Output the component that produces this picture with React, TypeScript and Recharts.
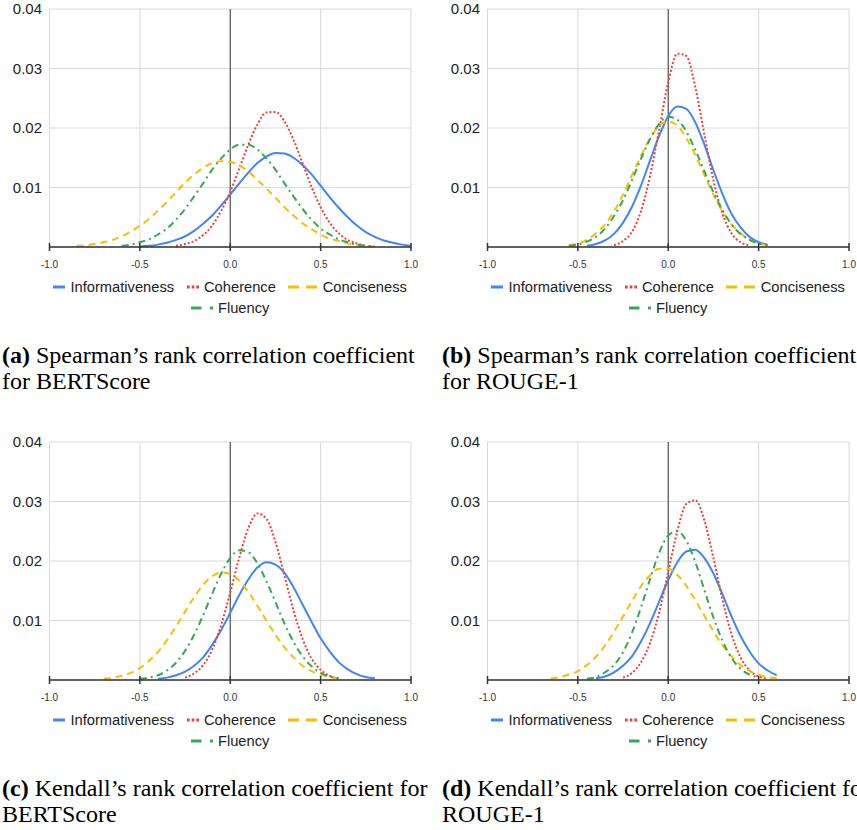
import React from 'react';
import { LineChart, Line, XAxis, YAxis, CartesianGrid, ReferenceLine } from 'recharts';

// correlation coefficient positions shared by every curve (step 0.05)
const xGrid = [
  -0.85, -0.8, -0.75, -0.7, -0.65, -0.6, -0.55, -0.5, -0.45, -0.4,
  -0.35, -0.3, -0.25, -0.2, -0.15, -0.1, -0.05, 0, 0.05, 0.1,
  0.15, 0.2, 0.25, 0.3, 0.35, 0.4, 0.45, 0.5, 0.55, 0.6,
  0.65, 0.7, 0.75, 0.8, 0.85, 0.9, 0.95, 1.0,
];
const STEP = 0.05;
const xTicks = [-1, -0.5, 0, 0.5, 1];
const yTicks = [0.01, 0.02, 0.03, 0.04];

const seriesKeys = ['inf', 'coh', 'con', 'flu'];
const seriesNames = ['Informativeness', 'Coherence', 'Conciseness', 'Fluency'];

// (a) Spearman / BERTScore  -- first x of each curve: inf, coh, con, flu
const aStarts = [-0.5, -0.3, -0.85, -0.6];
const aInf = [0.0001, 0.0002, 0.0004, 0.0007, 0.0012, 0.0018, 0.0027, 0.0039, 0.0053, 0.0070, 0.0088, 0.0107, 0.0125, 0.0141, 0.0152, 0.0158, 0.0157, 0.0150, 0.0138, 0.0122, 0.0103, 0.0084, 0.0066, 0.0050, 0.0036, 0.0025, 0.0017, 0.0011, 0.0007, 0.0004, 0.0002];
const aCoh = [0.0002, 0.0005, 0.0010, 0.0020, 0.0036, 0.0061, 0.0093, 0.0132, 0.0172, 0.0206, 0.0226, 0.0227, 0.0211, 0.0180, 0.0141, 0.0101, 0.0067, 0.0041, 0.0023, 0.0012, 0.0006, 0.0002];
const aCon = [0.0002, 0.0003, 0.0005, 0.0008, 0.0012, 0.0018, 0.0026, 0.0036, 0.0047, 0.0061, 0.0076, 0.0092, 0.0108, 0.0122, 0.0133, 0.0141, 0.0144, 0.0143, 0.0137, 0.0127, 0.0113, 0.0098, 0.0083, 0.0067, 0.0053, 0.0040, 0.0030, 0.0021, 0.0014, 0.0010, 0.0006, 0.0004, 0.0002, 0.0001];
const aFlu = [0.0002, 0.0004, 0.0008, 0.0013, 0.0021, 0.0031, 0.0046, 0.0064, 0.0085, 0.0107, 0.0130, 0.0149, 0.0164, 0.0172, 0.0172, 0.0164, 0.0149, 0.0130, 0.0107, 0.0085, 0.0064, 0.0046, 0.0031, 0.0021, 0.0013, 0.0008, 0.0004, 0.0002, 0.0001];

// (b) Spearman / ROUGE-1
const bStarts = [-0.45, -0.3, -0.55, -0.55];
const bInf = [0.0002, 0.0005, 0.0011, 0.0022, 0.0041, 0.0068, 0.0104, 0.0146, 0.0187, 0.0220, 0.0236, 0.0232, 0.0209, 0.0172, 0.0129, 0.0089, 0.0056, 0.0033, 0.0017, 0.0008, 0.0004];
const bCoh = [0.0003, 0.0010, 0.0026, 0.0061, 0.0120, 0.0198, 0.0277, 0.0325, 0.0321, 0.0268, 0.0189, 0.0112, 0.0056, 0.0023, 0.0008, 0.0003];
const bCon = [0.0003, 0.0006, 0.0012, 0.0023, 0.0038, 0.0060, 0.0088, 0.0121, 0.0154, 0.0183, 0.0204, 0.0211, 0.0204, 0.0183, 0.0154, 0.0121, 0.0088, 0.0060, 0.0038, 0.0023, 0.0012, 0.0006, 0.0003];
const bFlu = [0.0002, 0.0004, 0.0009, 0.0017, 0.0031, 0.0052, 0.0079, 0.0113, 0.0149, 0.0182, 0.0207, 0.0219, 0.0214, 0.0194, 0.0163, 0.0127, 0.0092, 0.0062, 0.0038, 0.0022, 0.0012, 0.0006, 0.0003];

// (c) Kendall / BERTScore
const cStarts = [-0.4, -0.25, -0.7, -0.5];
const cInf = [0.0002, 0.0004, 0.0008, 0.0014, 0.0024, 0.0038, 0.0059, 0.0084, 0.0113, 0.0143, 0.0169, 0.0189, 0.0198, 0.0194, 0.0180, 0.0156, 0.0127, 0.0098, 0.0070, 0.0048, 0.0030, 0.0018, 0.0010, 0.0005, 0.0003];
const cCoh = [0.0004, 0.0011, 0.0025, 0.0051, 0.0093, 0.0147, 0.0206, 0.0255, 0.0280, 0.0271, 0.0232, 0.0175, 0.0117, 0.0069, 0.0036, 0.0017, 0.0007, 0.0002];
const cCon = [0.0002, 0.0004, 0.0007, 0.0012, 0.0020, 0.0032, 0.0047, 0.0067, 0.0090, 0.0115, 0.0139, 0.0160, 0.0174, 0.0181, 0.0178, 0.0167, 0.0148, 0.0125, 0.0100, 0.0076, 0.0055, 0.0038, 0.0024, 0.0015, 0.0009, 0.0005, 0.0003];
const cFlu = [0.0002, 0.0004, 0.0008, 0.0016, 0.0029, 0.0049, 0.0076, 0.0109, 0.0145, 0.0179, 0.0205, 0.0218, 0.0215, 0.0196, 0.0166, 0.0131, 0.0095, 0.0064, 0.0040, 0.0023, 0.0012, 0.0006, 0.0003];

// (d) Kendall / ROUGE-1
const dStarts = [-0.4, -0.25, -0.65, -0.45];
const dInf = [0.0003, 0.0006, 0.0013, 0.0024, 0.0040, 0.0065, 0.0096, 0.0132, 0.0168, 0.0198, 0.0216, 0.0219, 0.0205, 0.0179, 0.0144, 0.0107, 0.0074, 0.0048, 0.0028, 0.0016, 0.0008];
const dCoh = [0.0004, 0.0012, 0.0030, 0.0063, 0.0114, 0.0182, 0.0250, 0.0296, 0.0302, 0.0268, 0.0205, 0.0135, 0.0077, 0.0038, 0.0016, 0.0006, 0.0002];
const dCon = [0.0002, 0.0005, 0.0009, 0.0015, 0.0025, 0.0039, 0.0058, 0.0081, 0.0107, 0.0133, 0.0158, 0.0176, 0.0187, 0.0187, 0.0177, 0.0158, 0.0134, 0.0108, 0.0082, 0.0058, 0.0040, 0.0025, 0.0015, 0.0009, 0.0005, 0.0003];
const dFlu = [0.0002, 0.0005, 0.0013, 0.0025, 0.0047, 0.0080, 0.0123, 0.0170, 0.0214, 0.0243, 0.0250, 0.0234, 0.0198, 0.0151, 0.0105, 0.0066, 0.0037, 0.0019, 0.0009, 0.0004];

const BLUE = '#4285F4';
const RED = '#EA4335';
const YELLOW = '#FBBC04';
const GREEN = '#34A853';

const SANS = '"Liberation Sans", Arial, sans-serif';
const SERIF = '"Liberation Serif", "Times New Roman", serif';

const lineStyles = [
  { color: BLUE, dash: undefined },
  { color: RED, dash: '2 2' },
  { color: YELLOW, dash: '7 5' },
  { color: GREEN, dash: '7 4 2 4' },
];

const buildRows = (starts: number[], series: number[][]) =>
  xGrid.map((x) => {
    const row: any = { x };
    seriesKeys.forEach((k, i) => {
      const idx = Math.round((x - starts[i]) / STEP);
      row[k] = idx >= 0 && idx < series[i].length ? series[i][idx] : null;
    });
    return row;
  });

const XTick = (props: any) => {
  const { x, y, payload } = props;
  return (
    <g>
      <line x1={x} x2={x} y1={y - 4} y2={y + 4} stroke="#333" strokeWidth={1.5} />
      <text x={x} y={y + 17} textAnchor="middle" dominantBaseline="central" fontSize={10} fill="#333">
        {Number(payload.value).toFixed(1)}
      </text>
    </g>
  );
};

const LegendIcon = ({ i }: { i: number }) => {
  const c = lineStyles[i].color;
  if (i === 0) {
    return (
      <svg width={12} height={4}>
        <rect x={0} y={0.5} width={12} height={3} fill={c} />
      </svg>
    );
  }
  if (i === 1) {
    return (
      <svg width={12} height={4}>
        <rect x={0} y={0.5} width={2.7} height={3} fill={c} />
        <rect x={4.65} y={0.5} width={2.7} height={3} fill={c} />
        <rect x={9.3} y={0.5} width={2.7} height={3} fill={c} />
      </svg>
    );
  }
  if (i === 2) {
    return (
      <svg width={29} height={4}>
        <rect x={0} y={0.5} width={11} height={3} fill={c} />
        <rect x={18} y={0.5} width={11} height={3} fill={c} />
      </svg>
    );
  }
  return (
    <svg width={22} height={4}>
      <rect x={0} y={0.5} width={10.5} height={3} fill={c} />
      <rect x={19} y={0.5} width={3} height={3} fill={c} />
    </svg>
  );
};

const LegendItem = ({ i, last }: { i: number; last?: boolean }) => (
  <div style={{ display: 'flex', alignItems: 'center', marginRight: last ? 0 : 12.6 }}>
    <LegendIcon i={i} />
    <span style={{ marginLeft: 5.3 }}>{seriesNames[i]}</span>
  </div>
);

const Panel = ({ left, top, rows, label, line1, line2 }: any) => (
  <div style={{ position: 'absolute', left, top, width: 430, height: 400 }}>
    <LineChart width={430} height={272} data={rows} margin={{ top: 9, right: 19, left: 0, bottom: 0 }}>
      <CartesianGrid stroke="#d9d9d9" strokeWidth={1} />
      <XAxis
        dataKey="x"
        type="number"
        domain={[-1, 1]}
        ticks={xTicks}
        interval={0}
        height={25}
        tickSize={0}
        tickMargin={0}
        tickLine={false}
        tick={<XTick />}
        axisLine={{ stroke: '#333', strokeWidth: 1.5 }}
      />
      <YAxis
        type="number"
        domain={[0, 0.04]}
        ticks={yTicks}
        interval={0}
        width={49.5}
        tickSize={0}
        tickMargin={7.5}
        axisLine={false}
        tickLine={false}
        tick={{ fontSize: 15, fill: '#222' }}
        tickFormatter={(v: number) => v.toFixed(2)}
      />
      <ReferenceLine x={0} stroke="#555" strokeWidth={1.2} />
      {seriesKeys.map((k, i) => (
        <Line
          key={k}
          type="monotone"
          dataKey={k}
          name={seriesNames[i]}
          stroke={lineStyles[i].color}
          strokeWidth={2}
          strokeDasharray={lineStyles[i].dash}
          dot={false}
          activeDot={false}
          isAnimationActive={false}
        />
      ))}
    </LineChart>
    <div style={{ position: 'absolute', left: 49.5, top: 276.5, width: 361, fontSize: 14.7, color: '#222' }}>
      <div style={{ display: 'flex', justifyContent: 'center', alignItems: 'center', height: 21, whiteSpace: 'nowrap' }}>
        <LegendItem i={0} />
        <LegendItem i={1} />
        <LegendItem i={2} last />
      </div>
      <div style={{ display: 'flex', justifyContent: 'center', alignItems: 'center', height: 21 }}>
        <LegendItem i={3} last />
      </div>
    </div>
    <div
      style={{
        position: 'absolute',
        left: 2 - (left > 0 ? 438 - 440 : 0),
        top: 342,
        fontFamily: SERIF,
        fontSize: 24,
        lineHeight: '26px',
        color: '#000',
        whiteSpace: 'nowrap',
      }}
    >
      <b>({label})</b> {line1}
      <br />
      {line2}
    </div>
  </div>
);

export default function App() {
  const rowsA = buildRows(aStarts, [aInf, aCoh, aCon, aFlu]);
  const rowsB = buildRows(bStarts, [bInf, bCoh, bCon, bFlu]);
  const rowsC = buildRows(cStarts, [cInf, cCoh, cCon, cFlu]);
  const rowsD = buildRows(dStarts, [dInf, dCoh, dCon, dFlu]);
  return (
    <div
      style={{
        position: 'absolute',
        left: 0,
        top: 0,
        width: 857,
        height: 830,
        overflow: 'hidden',
        background: '#fff',
        fontFamily: SANS,
      }}
    >
      <Panel left={0} top={0} rows={rowsA} label="a" line1="Spearman’s rank correlation coefficient" line2="for BERTScore" />
      <Panel left={438} top={0} rows={rowsB} label="b" line1="Spearman’s rank correlation coefficient" line2="for ROUGE-1" />
      <Panel left={0} top={432.7} rows={rowsC} label="c" line1="Kendall’s rank correlation coefficient for" line2="BERTScore" />
      <Panel left={438} top={432.7} rows={rowsD} label="d" line1="Kendall’s rank correlation coefficient for" line2="ROUGE-1" />
    </div>
  );
}
